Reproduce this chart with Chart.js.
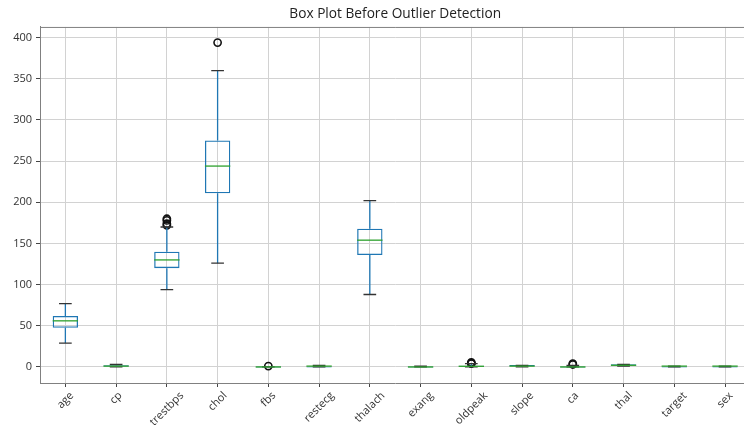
<!DOCTYPE html>
<html>
<head>
<meta charset="utf-8">
<script src="https://cdn.jsdelivr.net/npm/chart.js@4.4.0/dist/chart.umd.min.js"></script>
<style>
  html, body { margin: 0; padding: 0; background: #fff; overflow: hidden; }
  #wrap { position: relative; width: 756px; height: 428px; }
</style>
</head>
<body>
<div id="wrap"><canvas id="boxChart"></canvas></div>
<script>
// columns of the heart data set
const columns = ['age', 'cp', 'trestbps', 'chol', 'fbs', 'restecg', 'thalach', 'exang', 'oldpeak', 'slope', 'ca', 'thal', 'target', 'sex'];
const lowWhisker  = [29, 0, 94, 126, 0, 0, 88, 0, 0, 0, 0, 1, 0, 0];
const q1          = [47.5, 0, 120, 211, 0, 0, 136, 0, 0, 1, 0, 2, 0, 0];
const medians     = [56, 1, 130, 244, 0, 1, 154, 0, 0.8, 1, 0, 2, 1, 1];
const q3          = [62, 2, 140, 275, 0, 1, 168, 1, 1.6, 2, 1, 3, 1, 1];
const highWhisker = [77, 3, 170, 360, 0, 2, 202, 1, 4, 2, 2, 3, 1, 1];
const outliers    = [[], [], [172, 174, 178, 180], [394], [1], [], [], [], [4.2, 4.4, 5.6], [], [3, 4], [], [], []];
const yTicks = [0, 50, 100, 150, 200, 250, 300, 350, 400];

const FONT = 'Open Sans';
const BLUE = '#1f77b4';
const GREEN = '#2ca02c';

const outlierPoints = [];
outliers.forEach((list, i) => list.forEach(v => outlierPoints.push({ x: columns[i], y: v })));

// whiskers, caps, medians, top spine and rotated x labels
const boxExtras = {
  id: 'boxExtras',
  afterDatasetsDraw(chart) {
    const { ctx, scales: { x, y } } = chart;
    const cw = x.getPixelForValue(1) - x.getPixelForValue(0);
    ctx.save();
    columns.forEach((c, i) => {
      const cx = x.getPixelForValue(i);
      // whiskers
      ctx.strokeStyle = BLUE;
      ctx.lineWidth = 1.3;
      ctx.beginPath();
      ctx.moveTo(cx, y.getPixelForValue(q1[i]));
      ctx.lineTo(cx, y.getPixelForValue(lowWhisker[i]));
      ctx.moveTo(cx, y.getPixelForValue(q3[i]));
      ctx.lineTo(cx, y.getPixelForValue(highWhisker[i]));
      ctx.stroke();
      // caps
      ctx.strokeStyle = '#333';
      ctx.beginPath();
      [lowWhisker[i], highWhisker[i]].forEach(v => {
        const py = y.getPixelForValue(v);
        ctx.moveTo(cx - cw * 0.125, py);
        ctx.lineTo(cx + cw * 0.125, py);
      });
      ctx.stroke();
      // median
      ctx.strokeStyle = GREEN;
      ctx.beginPath();
      const my = y.getPixelForValue(medians[i]);
      ctx.moveTo(cx - cw * 0.25, my);
      ctx.lineTo(cx + cw * 0.25, my);
      ctx.stroke();
    });
    ctx.restore();
  },
  afterDraw(chart) {
    const { ctx, chartArea, scales: { x } } = chart;
    ctx.save();
    ctx.strokeStyle = '#808080';
    ctx.lineWidth = 1;
    ctx.beginPath();
    ctx.moveTo(chartArea.left, chartArea.top + 0.5);
    ctx.lineTo(chartArea.right, chartArea.top + 0.5);
    ctx.stroke();

    const fs = 11;
    ctx.font = fs + 'px "' + FONT + '"';
    ctx.fillStyle = '#333';
    ctx.textAlign = 'center';
    ctx.textBaseline = 'middle';
    columns.forEach((c, i) => {
      const w = ctx.measureText(c).width;
      const d = (w + fs) * Math.SQRT1_2;
      const cx = x.getPixelForValue(i);
      const cy = chartArea.bottom + 7 + d / 2;
      ctx.save();
      ctx.translate(cx, cy);
      ctx.rotate(-Math.PI / 4);
      ctx.fillText(c, 0, 0);
      ctx.restore();
    });
    ctx.restore();
  }
};

new Chart(document.getElementById('boxChart'), {
  type: 'bar',
  data: {
    labels: columns,
    datasets: [{
      label: 'box',
      data: columns.map((c, i) => [q1[i], q3[i]]),
      backgroundColor: 'rgba(0,0,0,0)',
      borderColor: BLUE,
      borderWidth: 1.3,
      borderSkipped: false,
      categoryPercentage: 1,
      barPercentage: 0.5,
      minBarLength: 1,
    }, {
      type: 'scatter',
      label: 'outliers',
      data: outlierPoints,
      pointStyle: 'circle',
      pointRadius: 3.6,
      pointBorderWidth: 1.6,
      pointBorderColor: '#111',
      pointBackgroundColor: 'rgba(0,0,0,0)',
      showLine: false,
    }]
  },
  options: {
    responsive: true,
    maintainAspectRatio: false,
    animation: false,
    layout: { padding: { left: 0, right: 0, top: 0, bottom: 0 } },
    plugins: {
      legend: { display: false },
      tooltip: { enabled: false },
      title: {
        display: true,
        fullSize: false,
        text: 'Box Plot Before Outlier Detection',
        color: '#222',
        font: { family: FONT, size: 13.7, weight: 'normal' },
        padding: { top: 5.5, bottom: 5 }
      }
    },
    scales: {
      x: {
        type: 'category',
        offset: true,
        grid: { offset: false, color: '#d2d2d2', lineWidth: 1, drawTicks: true, tickLength: 4, tickColor: '#444' },
        border: { display: true, color: '#808080', width: 1 },
        ticks: { display: false },
        afterFit(scale) { scale.height = 45; }
      },
      y: {
        min: -19.5,
        max: 413,
        afterBuildTicks(scale) { scale.ticks = yTicks.map(v => ({ value: v })); },
        grid: { color: '#d2d2d2', lineWidth: 1, drawTicks: true, tickLength: 4, tickColor: '#444' },
        border: { display: true, color: '#808080', width: 1 },
        ticks: { color: '#333', padding: 4, font: { family: FONT, size: 11 } },
        afterFit(scale) { scale.width = 40; }
      }
    }
  },
  plugins: [boxExtras]
});
</script>
</body>
</html>
